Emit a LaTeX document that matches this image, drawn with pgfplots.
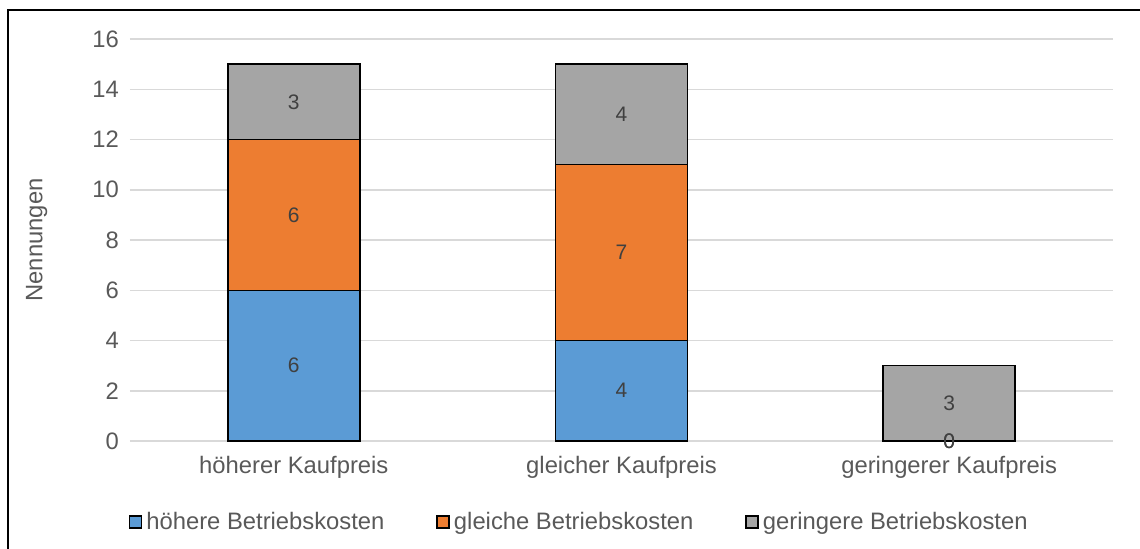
\documentclass[border=0pt]{standalone}
\usepackage{fontspec}
\setmainfont{Liberation Sans}
\usepackage{pgfplots}
\pgfplotsset{compat=1.18}
\definecolor{cblue}{HTML}{5B9BD5}
\definecolor{corange}{HTML}{ED7D31}
\definecolor{cgray}{HTML}{A5A5A5}
\definecolor{tickc}{HTML}{595959}
\definecolor{labc}{HTML}{404040}
\definecolor{gridc}{HTML}{D9D9D9}
\begin{document}
\begin{tikzpicture}
\path[use as bounding box] (0,0) rectangle (570pt,274pt);
\draw[line width=1pt] (4pt,-10pt) -- (4pt,269pt) -- (580pt,269pt);
\begin{axis}[
  at={(65pt,53.5pt)}, anchor=south west,
  scale only axis, width=491.5pt, height=201pt,
  ybar stacked, bar width=66pt,
  xmin=-0.5, xmax=2.5, ymin=0, ymax=16,
  xtick={0,1,2},
  xticklabels={höherer Kaufpreis, gleicher Kaufpreis, geringerer Kaufpreis},
  ytick={0,2,...,16},
  ymajorgrids, grid style={draw=gridc, line width=0.75pt},
  axis line style={draw=none}, major tick length=0pt,
  /pgf/number format/assume math mode=true,
  tick label style={font=\fontsize{11.9}{14}\selectfont, text=tickc},
  xticklabel style={yshift=-4pt},
  yticklabel style={xshift=-2pt},
  ylabel={Nennungen},
  ylabel style={at={(axis description cs:-0.095,0.5)}, anchor=center, font=\fontsize{11.9}{14}\selectfont, text=tickc},
  legend style={at={(0.458,-0.2015)}, anchor=center, draw=none, fill=none,
    legend columns=3, font=\fontsize{11.9}{14}\selectfont, text=tickc,
    /tikz/every even column/.append style={column sep=24pt},
    /tikz/every odd column/.append style={column sep=0pt}},
  legend image code/.code={\draw[#1,draw=black,line width=0.75pt] (0pt,-3pt) rectangle (6pt,3pt);},
]
\addplot[fill=cblue, draw=black, line width=0.75pt] coordinates {(0,6) (1,4) (2,0)};
\addplot[fill=corange, draw=black, line width=0.75pt] coordinates {(0,6) (1,7) (2,0)};
\addplot[fill=cgray, draw=black, line width=0.75pt] coordinates {(0,3) (1,4) (2,3)};
\legend{höhere Betriebskosten, gleiche Betriebskosten, geringere Betriebskosten}
\end{axis}
\begin{axis}[
  at={(65pt,53.5pt)}, anchor=south west,
  scale only axis, width=491.5pt, height=201pt,
  xmin=-0.5, xmax=2.5, ymin=0, ymax=16,
  hide axis, clip=false,
]
\addplot[only marks, mark=none, nodes near coords, point meta=explicit symbolic,
  every node near coord/.style={anchor=center, font=\fontsize{10.5}{12}\selectfont, text=labc}]
  table[meta=lab] {
x y lab
0 3 6
0 9 6
0 13.5 3
1 2 4
1 7.5 7
1 13 4
2 0 0
2 0 0
2 1.5 3
};
\end{axis}
\end{tikzpicture}
\end{document}
